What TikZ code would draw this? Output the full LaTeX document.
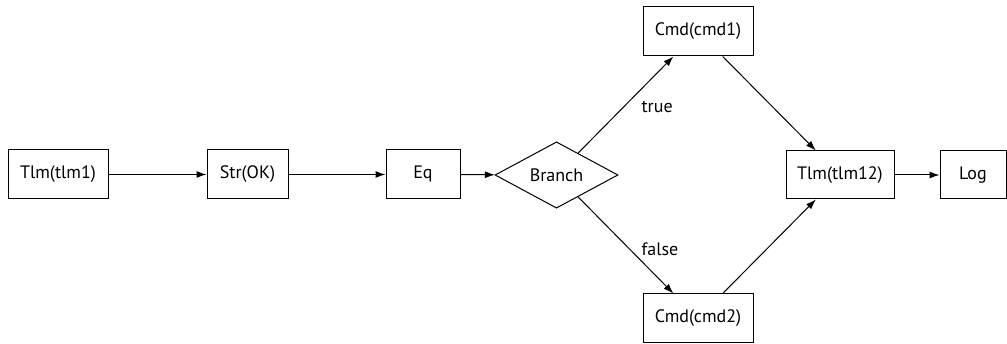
\documentclass[tikz,border=0pt]{standalone}
\usepackage{fontspec}
\setmainfont{PT Sans}
\usetikzlibrary{arrows.meta,shapes.geometric}

\tikzset{
  blk/.style={draw, line width=1pt, inner sep=0pt, minimum height=49pt},
  dec/.style={draw, diamond, line width=1pt, inner sep=0pt, minimum width=123pt, minimum height=64pt},
  flow/.style={-{Latex[length=10pt,width=7pt]}, line width=1pt},
}

\begin{document}
\begin{tikzpicture}[x=1pt,y=-1pt,font=\fontsize{18}{21}\selectfont]
		\useasboundingbox (0,0) rectangle (1007,344); % edit here for the margins
		\node[blk, minimum width=100pt] (tlm1) at (58,174.5) {Tlm(tlm1)};
		\node[blk, minimum width=81pt] (strok) at (247.5,174.5) {Str(OK)};
		\node[blk, minimum width=74pt] (eq) at (423,174.5) {Eq};
		\node[dec] (branch) at (556.5,175) {Branch};
		\node[blk, minimum width=110pt] (cmd1) at (698,31.5) {Cmd(cmd1)};
		\node[blk, minimum width=110pt] (cmd2) at (698,318.5) {Cmd(cmd2)};
		\node[blk, minimum width=108pt, minimum height=48pt] (tlm12) at (840,175) {Tlm(tlm12)};
		\node[blk, minimum width=66pt, minimum height=48pt] (log) at (973,175) {Log};
		\draw[flow] (tlm1) -- (strok);
		\draw[flow] (strok) -- (eq);
		\draw[flow] (eq) -- (branch);
		\draw[flow] (branch) -- node[midway, right=12pt, yshift=-2pt] {true} (cmd1);
		\draw[flow] (branch) -- node[midway, right=12pt, yshift=-4pt] {false} (cmd2);
		\draw[flow] (cmd1) -- (tlm12);
		\draw[flow] (cmd2) -- (tlm12);
		\draw[flow] (tlm12) -- (log);
		\end{tikzpicture}
\end{document}
